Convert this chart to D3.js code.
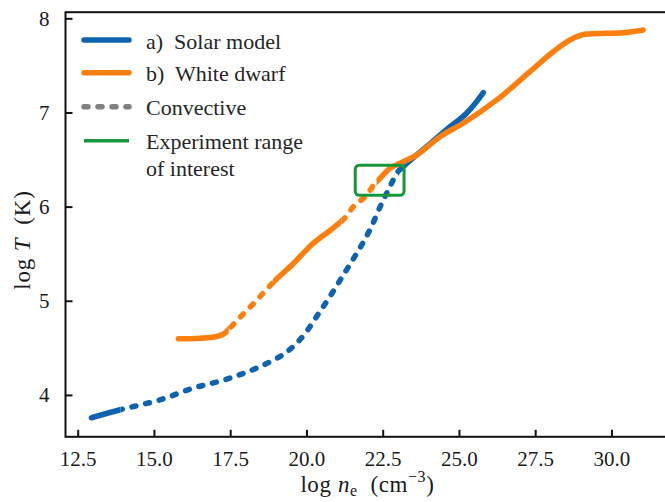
<!DOCTYPE html>
<html>
<head>
<meta charset="utf-8">
<script src="https://cdn.jsdelivr.net/npm/d3@7"></script>
<style>
  body { margin: 0; background: #fff; }
  svg { display: block; }
</style>
</head>
<body>
<svg id="chart" width="665" height="502"></svg>
<script>
// Temperature–density profiles (log10 n_e in cm^-3, log10 T in K)
const solarLogNe = [12.95, 13.89, 15.20, 16.29, 17.39, 18.48, 18.95, 19.35, 19.65, 19.95, 20.34, 20.77, 21.16, 21.65, 22.08, 22.47, 22.74, 22.96, 23.18, 23.94, 24.71, 25.25, 25.58, 25.80];
const solarLogT  = [3.757, 3.842, 3.948, 4.072, 4.168, 4.301, 4.375, 4.455, 4.540, 4.650, 4.835, 5.045, 5.248, 5.505, 5.753, 6.036, 6.212, 6.355, 6.425, 6.637, 6.849, 6.992, 7.115, 7.210];
const solarConvective = [[13.9, 23.0]];

const dwarfLogNe = [15.80, 16.40, 17.06, 17.39, 17.49, 17.93, 18.37, 18.75, 18.91, 19.57, 20.12, 20.88, 21.26, 21.54, 21.98, 22.25, 22.36, 22.74, 23.07, 23.62, 24.38, 25.14, 26.24, 27.33, 28.09, 28.64, 29.19, 29.84, 30.39, 31.04];
const dwarfLogT  = [4.597, 4.600, 4.620, 4.673, 4.709, 4.860, 5.005, 5.140, 5.195, 5.395, 5.580, 5.775, 5.880, 6.000, 6.124, 6.248, 6.283, 6.408, 6.461, 6.549, 6.743, 6.885, 7.133, 7.433, 7.645, 7.770, 7.833, 7.841, 7.847, 7.876];
const dwarfConvective = [[17.45, 18.9], [21.15, 22.3]];

// Experiment window
const experimentNe = [21.6, 23.2];
const experimentT  = [6.12, 6.44];

const xTicks = [12.5, 15.0, 17.5, 20.0, 22.5, 25.0, 27.5, 30.0];
const yTicks = [4, 5, 6, 7, 8];
const legendLabels = ["a)  Solar model", "b)  White dwarf", "Convective", ["Experiment range", "of interest"]];

const colors = { solar: "#0d63b0", dwarf: "#ff7f0e", convective: "#808080", experiment: "#16973a" };
const serif = "Liberation Serif";
const ink = "#1a1a1a";

const svg = d3.select("#chart").attr("font-family", serif);
const W = 665, H = 502;
const plot = { left: 65.5, right: 669.4, top: 12.2, bottom: 436.8 };

const x = d3.scaleLinear().domain([12.1, 31.9]).range([plot.left, plot.right]);
const y = d3.scaleLinear().domain([3.555, 8.065]).range([plot.bottom, plot.top]);

const defs = svg.append("defs");

// Clip regions splitting each profile into radiative (solid) and convective (dashed) parts
function makeClips(id, ranges) {
  const conv = defs.append("clipPath").attr("id", id + "-conv");
  ranges.forEach(([a, b]) => conv.append("rect")
    .attr("x", x(a)).attr("y", 0).attr("width", x(b) - x(a)).attr("height", H));
  const rad = defs.append("clipPath").attr("id", id + "-rad");
  let start = -1e6;
  ranges.forEach(([a, b]) => {
    rad.append("rect").attr("x", start).attr("y", 0).attr("width", x(a) - start).attr("height", H);
    start = x(b);
  });
  rad.append("rect").attr("x", start).attr("y", 0).attr("width", 1e7).attr("height", H);
}

const line = d3.line().x(d => x(d[0])).y(d => y(d[1])).curve(d3.curveMonotoneX);

function drawProfile(id, xs, ys, ranges, color) {
  makeClips(id, ranges);
  const pts = d3.zip(xs, ys);
  const g = svg.append("g");
  g.append("path").attr("d", line(pts))
    .attr("clip-path", `url(#${id}-rad)`)
    .attr("fill", "none").attr("stroke", color).attr("stroke-width", 5.5)
    .attr("stroke-linecap", "round").attr("stroke-linejoin", "round");
  g.append("path").attr("d", line(pts))
    .attr("clip-path", `url(#${id}-conv)`)
    .attr("fill", "none").attr("stroke", color).attr("stroke-width", 5.5)
    .attr("stroke-linecap", "round").attr("stroke-dasharray", "4,10");
}

drawProfile("solar", solarLogNe, solarLogT, solarConvective, colors.solar);
drawProfile("dwarf", dwarfLogNe, dwarfLogT, dwarfConvective, colors.dwarf);

// Experiment range box
svg.append("rect")
  .attr("x", x(experimentNe[0])).attr("y", y(experimentT[1]))
  .attr("width", x(experimentNe[1]) - x(experimentNe[0]))
  .attr("height", y(experimentT[0]) - y(experimentT[1]))
  .attr("rx", 4).attr("ry", 4)
  .attr("fill", "none").attr("stroke", colors.experiment).attr("stroke-width", 3);

// Axes frame
svg.append("rect").attr("x", plot.left).attr("y", plot.top)
  .attr("width", plot.right - plot.left).attr("height", plot.bottom - plot.top)
  .attr("fill", "none").attr("stroke", "#111").attr("stroke-width", 2);

// Inward ticks
const xAxis = d3.axisBottom(x).tickValues(xTicks).tickFormat(d3.format(".1f")).tickSizeInner(-7).tickSizeOuter(0).tickPadding(14);
const gx = svg.append("g").attr("transform", `translate(0,${plot.bottom})`).call(xAxis);
gx.attr("font-family", serif).attr("font-size", 21);
gx.select(".domain").remove();
gx.selectAll(".tick line").attr("stroke", "#111").attr("stroke-width", 2);
gx.selectAll(".tick text").attr("dy", "0.71em").attr("fill", ink).attr("font-family", serif);

const yAxis = d3.axisLeft(y).tickValues(yTicks).tickFormat(d3.format("d")).tickSizeInner(-7).tickSizeOuter(0).tickPadding(16);
const gy = svg.append("g").attr("transform", `translate(${plot.left},0)`).call(yAxis);
gy.attr("font-family", serif).attr("font-size", 21);
gy.select(".domain").remove();
gy.selectAll(".tick line").attr("stroke", "#111").attr("stroke-width", 2);
gy.selectAll(".tick text").attr("fill", ink).attr("font-family", serif);

// Axis titles
const xt = svg.append("text").attr("x", (plot.left + plot.right) / 2).attr("y", 492)
  .attr("text-anchor", "middle").attr("font-size", 23).attr("font-family", serif)
  .attr("letter-spacing", 0.6).attr("fill", ink).attr("xml:space", "preserve");
xt.append("tspan").text("log ");
xt.append("tspan").attr("font-style", "italic").text("n");
xt.append("tspan").attr("font-size", 16).attr("dy", 4).text("e");
xt.append("tspan").attr("dy", -4).text("  (cm");
xt.append("tspan").attr("font-size", 16).attr("dy", -10).text("\u22123");
xt.append("tspan").attr("dy", 10).text(")");

const yt = svg.append("text").attr("transform", "translate(30,240) rotate(-90)")
  .attr("text-anchor", "middle").attr("font-size", 23).attr("font-family", serif)
  .attr("letter-spacing", 0.8).attr("fill", ink).attr("xml:space", "preserve");
yt.append("tspan").text("log ");
yt.append("tspan").attr("font-style", "italic").text("T");
yt.append("tspan").text("  (K)");

// Legend
const legend = svg.append("g");
const legendY = [40, 72.7, 106.7, 140.7];
const legendStyle = [
  { color: colors.solar, dash: null },
  { color: colors.dwarf, dash: null },
  { color: colors.convective, dash: "4,10" },
  { color: colors.experiment, dash: null, width: 3.5 }
];
legendLabels.forEach((label, i) => {
  const st = legendStyle[i];
  legend.append("line").attr("x1", 84).attr("x2", 129).attr("y1", legendY[i]).attr("y2", legendY[i])
    .attr("stroke", st.color).attr("stroke-width", st.width || 5.5)
    .attr("stroke-linecap", st.width ? "butt" : "round")
    .attr("stroke-dasharray", st.dash);
  const lines = Array.isArray(label) ? label : [label];
  const t = legend.append("text").attr("x", 146).attr("y", legendY[i] + 8.5)
    .attr("font-size", 22).attr("font-family", serif).attr("fill", "#262626")
    .attr("xml:space", "preserve");
  lines.forEach((s, k) => t.append("tspan").attr("x", 146).attr("dy", k === 0 ? 0 : 27).text(s));
});
</script>
</body>
</html>
